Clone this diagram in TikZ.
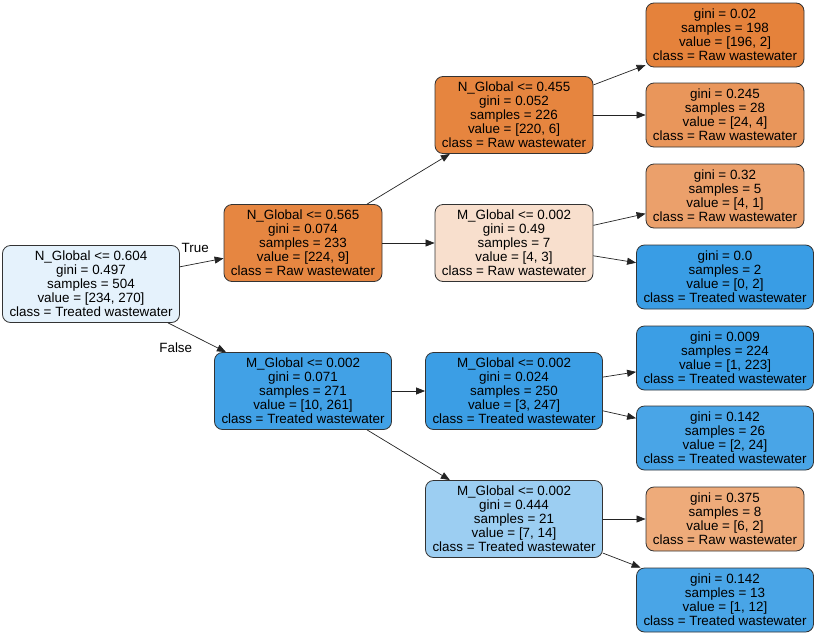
\documentclass[tikz,border=0pt]{standalone}
\usepackage{fontspec}
\setmainfont{Liberation Sans}
\usetikzlibrary{arrows.meta,positioning}
\definecolor{Raw}{RGB}{229,129,57}
\definecolor{Treated}{RGB}{57,157,229}
\definecolor{Edge}{RGB}{35,35,35}
\tikzset{
  tbase/.style={draw=black!80,line width=0.8pt,rounded corners=8pt,align=center,font=\fontsize{13.4}{14}\selectfont,inner sep=1pt},
  tsplit/.style={tbase,minimum height=77pt},
  tleaf/.style={tbase,minimum height=64pt},
  wraw/.style={minimum width=158pt},
  wtre/.style={minimum width=177pt},
  tarr/.style={-{Triangle[length=9pt,width=7pt]},line width=0.7pt,draw=Edge},
  tlab/.style={font=\fontsize{13.4}{14}\selectfont,inner sep=1pt}
}

\begin{document}
\begin{tikzpicture}[x=1pt,y=-1pt]
\useasboundingbox (0,0) rectangle (817,635);
% split nodes
\node[tsplit,wtre,fill=Treated!13!white] (root) at (91,284) {N\_Global <= 0.604\\ gini = 0.497\\ samples = 504\\ value = [234, 270]\\ class = Treated wastewater};
\node[tsplit,wraw,fill=Raw!96!white] (n565) at (303,243) {N\_Global <= 0.565\\ gini = 0.074\\ samples = 233\\ value = [224, 9]\\ class = Raw wastewater};
\node[tsplit,wraw,fill=Raw!97!white] (n455) at (514,115) {N\_Global <= 0.455\\ gini = 0.052\\ samples = 226\\ value = [220, 6]\\ class = Raw wastewater};
\node[tsplit,wraw,fill=Raw!25!white] (m7) at (514,243) {M\_Global <= 0.002\\ gini = 0.49\\ samples = 7\\ value = [4, 3]\\ class = Raw wastewater};
\node[tsplit,wtre,fill=Treated!96!white] (m271) at (303,391) {M\_Global <= 0.002\\ gini = 0.071\\ samples = 271\\ value = [10, 261]\\ class = Treated wastewater};
\node[tsplit,wtre,fill=Treated!99!white] (m250) at (514,391) {M\_Global <= 0.002\\ gini = 0.024\\ samples = 250\\ value = [3, 247]\\ class = Treated wastewater};
\node[tsplit,wtre,fill=Treated!50!white] (m21) at (514,519) {M\_Global <= 0.002\\ gini = 0.444\\ samples = 21\\ value = [7, 14]\\ class = Treated wastewater};
% leaves
\node[tleaf,wraw,fill=Raw!99!white] (l198) at (725,35) {gini = 0.02\\ samples = 198\\ value = [196, 2]\\ class = Raw wastewater};
\node[tleaf,wraw,fill=Raw!83!white] (l28) at (725,115) {gini = 0.245\\ samples = 28\\ value = [24, 4]\\ class = Raw wastewater};
\node[tleaf,wraw,fill=Raw!75!white] (l5) at (725,196) {gini = 0.32\\ samples = 5\\ value = [4, 1]\\ class = Raw wastewater};
\node[tleaf,wtre,fill=Treated] (l2) at (725,277) {gini = 0.0\\ samples = 2\\ value = [0, 2]\\ class = Treated wastewater};
\node[tleaf,wtre,fill=Treated!99!white] (l224) at (725,358) {gini = 0.009\\ samples = 224\\ value = [1, 223]\\ class = Treated wastewater};
\node[tleaf,wtre,fill=Treated!92!white] (l26) at (725,438) {gini = 0.142\\ samples = 26\\ value = [2, 24]\\ class = Treated wastewater};
\node[tleaf,wraw,fill=Raw!67!white] (l8) at (725,519) {gini = 0.375\\ samples = 8\\ value = [6, 2]\\ class = Raw wastewater};
\node[tleaf,wtre,fill=Treated!92!white] (l13) at (725,600) {gini = 0.142\\ samples = 13\\ value = [1, 12]\\ class = Treated wastewater};
% edges
\draw[tarr] (root) -- node[tlab,pos=0.35,above=10pt] {True} (n565);
\draw[tarr] (root) -- node[tlab,pos=0.5,below left=5pt] {False} (m271);
\draw[tarr] (n565) -- (n455);
\draw[tarr] (n565) -- (m7);
\draw[tarr] (n455) -- (l198);
\draw[tarr] (n455) -- (l28);
\draw[tarr] (m7) -- (l5);
\draw[tarr] (m7) -- (l2);
\draw[tarr] (m271) -- (m250);
\draw[tarr] (m271) -- (m21);
\draw[tarr] (m250) -- (l224);
\draw[tarr] (m250) -- (l26);
\draw[tarr] (m21) -- (l8);
\draw[tarr] (m21) -- (l13);
\end{tikzpicture}
\end{document}
